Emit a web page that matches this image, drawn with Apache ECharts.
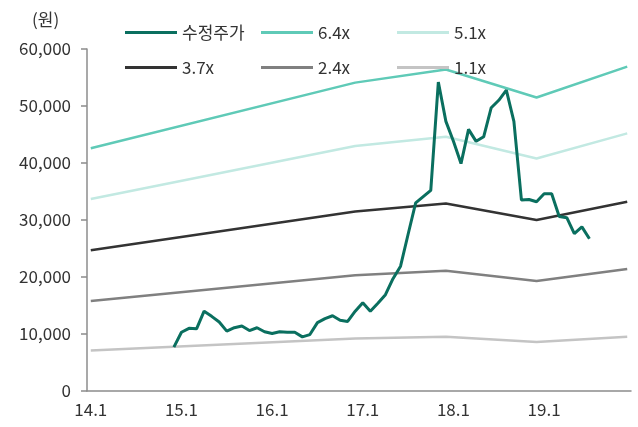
<!DOCTYPE html>
<html>
<head>
<meta charset="utf-8">
<script src="https://cdn.jsdelivr.net/npm/echarts@6/dist/echarts.min.js"></script>
<style>
html,body{margin:0;padding:0;background:#fff;}
#c{width:638px;height:427px;}
</style>
</head>
<body>
<div id="c"></div>
<script>
// Category labels (monthly, 14.1 .. 19.12)
var years = ['14', '15', '16', '17', '18', '19'];
var months = ['1','2','3','4','5','6','7','8','9','10','11','12'];
var categories = [];
years.forEach(function (y) { months.forEach(function (m) { categories.push(y + '.' + m); }); });

// Band anchor months and values (원)
var bandMonths = ['14.1', '16.12', '17.12', '18.12', '19.12'];
var band64 = [42600, 54100, 56400, 51500, 56900];
var band51 = [33700, 43000, 44600, 40800, 45200];
var band37 = [24700, 31500, 32900, 30000, 33200];
var band24 = [15800, 20300, 21100, 19300, 21400];
var band11 = [7100, 9200, 9500, 8600, 9500];

// Adjusted stock price (수정주가), monthly from 14.12 to 19.7
var priceStart = '14.12';
var price = [
  7700, 10300, 11000, 10900, 14000, 13100, 12100, 10500, 11100, 11400,
  10600, 11100, 10400, 10100, 10400, 10300, 10300, 9500, 9900, 12000,
  12700, 13200, 12400, 12200, 14000, 15500, 14000, 15400, 16900, 19700,
  21900, 27500, 33000, 34100, 35200, 54200, 47300, 43800, 39900, 45900,
  43800, 44600, 49700, 51000, 52800, 47300, 33500, 33600, 33200, 34600,
  34600, 30600, 30400, 27600, 28800, 26700
];

var names = ['수정주가', '6.4x', '5.1x', '3.7x', '2.4x', '1.1x'];
var colors = ['#0a6f5f', '#5fcab7', '#c2e9e2', '#333333', '#808080', '#c4c4c4'];

function pairs(vals) {
  return vals.map(function (v, i) { return [bandMonths[i], v]; });
}
var startIdx = categories.indexOf(priceStart);
var priceData = price.map(function (v, i) { return [categories[startIdx + i], v]; });

var FONT = '"Noto Sans CJK KR", "Noto Sans", sans-serif';

function bandSeries(name, vals, color) {
  return {
    name: name, type: 'line', data: pairs(vals), symbol: 'none',
    lineStyle: { color: color, width: 2.5 }, itemStyle: { color: color }
  };
}

var legendPos = [
  { left: 125, top: 24 }, { left: 261, top: 24 }, { left: 397, top: 24 },
  { left: 125, top: 59 }, { left: 261, top: 59 }, { left: 397, top: 59 }
];
var legendOrder = ['수정주가', '6.4x', '5.1x', '3.7x', '2.4x', '1.1x'];
var legends = legendOrder.map(function (n, i) {
  return {
    data: [n], left: legendPos[i].left, top: legendPos[i].top,
    icon: 'rect', itemWidth: 52, itemHeight: 3, itemGap: 0,
    textStyle: { fontSize: 17, color: '#333', fontFamily: FONT },
    selectedMode: false, padding: 0
  };
});

var chart = echarts.init(document.getElementById('c'), null, { renderer: 'canvas' });
chart.setOption({
  animation: false,
  textStyle: { fontFamily: FONT },
  grid: { left: 87, right: 7, top: 49, bottom: 36, containLabel: false },
  legend: legends,
  graphic: [{
    type: 'text', left: 32, top: 11,
    style: { text: '(원)', fontSize: 17, fill: '#333', fontFamily: FONT }
  }],
  xAxis: {
    type: 'category', data: categories, boundaryGap: true,
    axisLine: { lineStyle: { color: '#8c8c8c', width: 1.5 } },
    axisTick: { interval: 11, length: 5, lineStyle: { color: '#8c8c8c', width: 1.5 } },
    axisLabel: { interval: 11, fontSize: 17, color: '#333', margin: 10, fontFamily: FONT },
    splitLine: { show: false }
  },
  yAxis: {
    type: 'value', min: 0, max: 60000, interval: 10000,
    axisLine: { show: true, lineStyle: { color: '#8c8c8c', width: 1.5 } },
    axisTick: { show: true, length: 6, lineStyle: { color: '#8c8c8c', width: 1.5 } },
    axisLabel: {
      fontSize: 17, color: '#333', margin: 16, fontFamily: FONT,
      formatter: function (v) { return v.toLocaleString('en-US'); }
    },
    splitLine: { show: false }
  },
  series: [
    bandSeries('6.4x', band64, colors[1]),
    bandSeries('5.1x', band51, colors[2]),
    bandSeries('3.7x', band37, colors[3]),
    bandSeries('2.4x', band24, colors[4]),
    bandSeries('1.1x', band11, colors[5]),
    {
      name: '수정주가', type: 'line', data: priceData, symbol: 'none',
      lineStyle: { color: colors[0], width: 3 }, itemStyle: { color: colors[0] }, z: 5
    }
  ]
});
</script>
</body>
</html>
